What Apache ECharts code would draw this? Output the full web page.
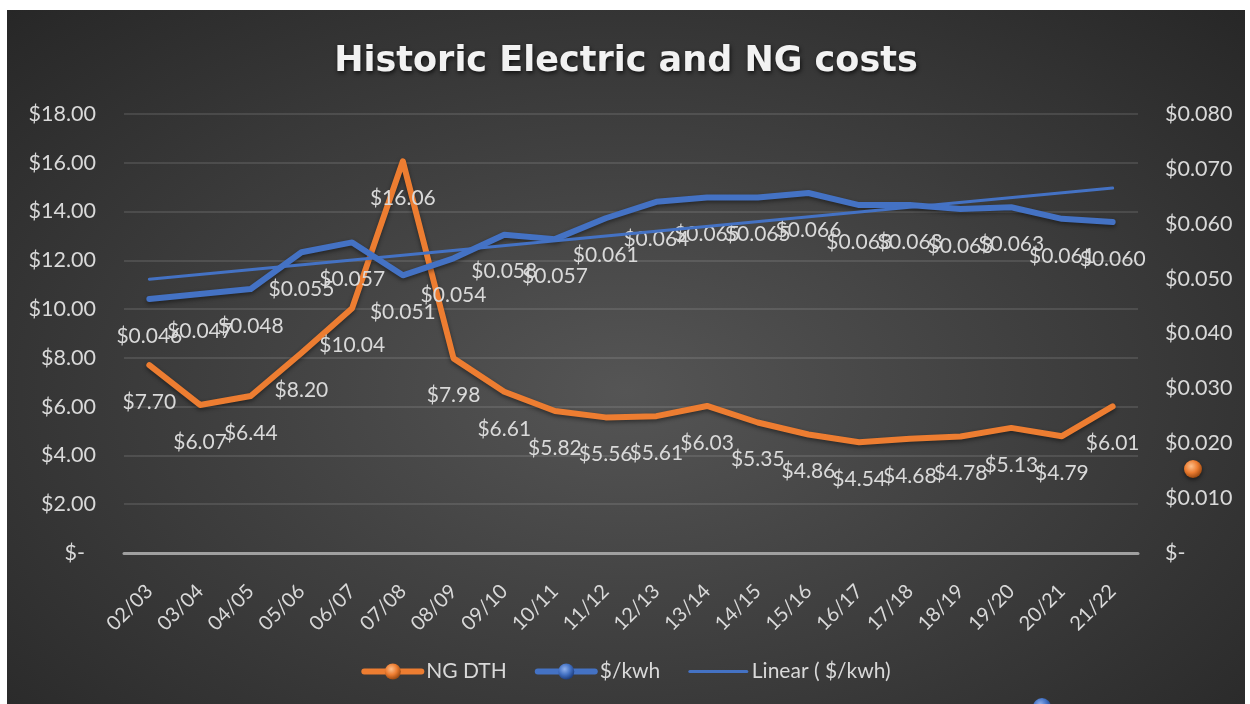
<!DOCTYPE html>
<html>
<head>
<meta charset="utf-8">
<title>Historic Electric and NG costs</title>
<script src="https://cdn.jsdelivr.net/npm/echarts@6/dist/echarts.min.js"></script>
<style>
  html, body { margin: 0; padding: 0; background: #ffffff; }
  #chart {
    position: absolute;
    left: 7px;
    top: 10px;
    width: 1238px;
    height: 694px;
    background: radial-gradient(ellipse at 50% 55%, #555555 0%, #404040 45%, #272727 100%);
  }
</style>
</head>
<body>
<div id="chart"></div>
<script>
// years on the x axis
const years = ['02/03', '03/04', '04/05', '05/06', '06/07', '07/08', '08/09', '09/10', '10/11', '11/12',
  '12/13', '13/14', '14/15', '15/16', '16/17', '17/18', '18/19', '19/20', '20/21', '21/22']

// natural gas, $ per DTH (left axis)
const ngDth = [7.70, 6.07, 6.44, 8.20, 10.04, 16.06, 7.98, 6.61, 5.82, 5.56,
  5.61, 6.03, 5.35, 4.86, 4.54, 4.68, 4.78, 5.13, 4.79, 6.01]

// electric, $ per kwh (right axis)
const kwh = [0.0463, 0.0472, 0.0481, 0.0548, 0.0566, 0.0506, 0.0537, 0.0580, 0.0572, 0.0610,
  0.0640, 0.0648, 0.0648, 0.0656, 0.0634, 0.0634, 0.0627, 0.0630, 0.0609, 0.0603]

// linear trend of $/kwh, read at the first and last year
const kwhTrend = [0.0499, null, null, null, null, null, null, null, null, null,
  null, null, null, null, null, null, null, null, null, 0.0665]

// axis ticks
const leftTicks = { min: 0, max: 18, step: 2 }
const rightTicks = { min: 0, max: 0.08, step: 0.01 }

const ORANGE = '#ED7D31'
const BLUE = '#4472C4'
const TEXT = '#d9d9d9'
const FONT = 'Lato, "Open Sans", sans-serif'
const CLEAR = 'rgba(0,0,0,0)'

// glossy ball used in the legend
const ball = (light, mid, dark) => new echarts.graphic.RadialGradient(0.4, 0.35, 0.65, [
  { offset: 0, color: light },
  { offset: 0.55, color: mid },
  { offset: 1, color: dark }
])

const chart = echarts.init(document.getElementById('chart'))

const option = {
  backgroundColor: 'transparent',
  animation: false,
  title: {
    text: 'Historic Electric and NG costs',
    left: 'center',
    top: 29,
    textStyle: {
      color: '#f2f2f2',
      fontFamily: '"DejaVu Sans", sans-serif',
      fontWeight: 'bold',
      fontSize: 35,
      textShadowColor: 'rgba(0,0,0,0.7)',
      textShadowBlur: 4,
      textShadowOffsetX: 1,
      textShadowOffsetY: 2
    }
  },
  legend: {
    top: 646,
    left: 'center',
    itemWidth: 57,
    itemHeight: 20,
    itemGap: 28,
    textStyle: { color: TEXT, fontSize: 21, fontFamily: FONT },
    data: [
      {
        name: 'NG DTH',
        itemStyle: { color: ball('#fbbf8c', ORANGE, '#9c4a12'), opacity: 1 },
        lineStyle: { color: ORANGE, width: 6 }
      },
      {
        name: '$/kwh',
        itemStyle: { color: ball('#8fb0ec', BLUE, '#1f3f80'), opacity: 1 },
        lineStyle: { color: BLUE, width: 6 }
      },
      {
        name: 'Linear ( $/kwh)',
        itemStyle: { color: CLEAR, borderColor: CLEAR },
        lineStyle: { color: BLUE, width: 3 }
      }
    ]
  },
  grid: {
    left: 117,
    right: 107,
    top: 104,
    bottom: 151
  },
  xAxis: {
    type: 'category',
    data: years,
    boundaryGap: true,
    axisTick: { show: false },
    axisLine: { lineStyle: { color: '#a0a0a0', width: 3 } },
    axisLabel: {
      color: TEXT,
      fontSize: 20,
      fontFamily: FONT,
      rotate: 45,
      margin: 35,
      interval: 0
    }
  },
  yAxis: [
    {
      type: 'value',
      min: leftTicks.min,
      max: leftTicks.max,
      interval: leftTicks.step,
      axisLine: { show: false },
      axisTick: { show: false },
      splitLine: { lineStyle: { color: 'rgba(217,217,217,0.18)', width: 1.5 } },
      axisLabel: {
        color: TEXT,
        fontSize: 21.5,
        fontFamily: FONT,
        margin: 28,
        formatter: v => v === 0 ? '{z|$-}' : '$' + v.toFixed(2),
        rich: { z: { color: TEXT, fontSize: 21.5, fontFamily: FONT, padding: [0, 11, 0, 0] } }
      }
    },
    {
      type: 'value',
      min: rightTicks.min,
      max: rightTicks.max,
      interval: rightTicks.step,
      axisLine: { show: false },
      axisTick: { show: false },
      splitLine: { show: false },
      axisLabel: {
        color: TEXT,
        fontSize: 21.5,
        fontFamily: FONT,
        margin: 27,
        formatter: v => v === 0 ? '$-' : '$' + v.toFixed(3)
      }
    }
  ],
  series: [
    {
      name: 'NG DTH',
      type: 'line',
      yAxisIndex: 0,
      data: ngDth,
      symbol: 'circle',
      symbolSize: 2,
      itemStyle: { color: CLEAR, borderColor: CLEAR },
      lineStyle: {
        color: ORANGE,
        width: 6,
        cap: 'round',
        join: 'round',
        shadowColor: 'rgba(0,0,0,0.45)',
        shadowBlur: 4,
        shadowOffsetY: 2
      },
      label: {
        show: true,
        position: 'bottom',
        distance: 25,
        color: TEXT,
        fontSize: 21,
        fontFamily: FONT,
        formatter: p => '$' + p.value.toFixed(2)
      },
      z: 3
    },
    {
      name: '$/kwh',
      type: 'line',
      yAxisIndex: 1,
      data: kwh,
      symbol: 'circle',
      symbolSize: 2,
      itemStyle: { color: CLEAR, borderColor: CLEAR },
      lineStyle: {
        color: BLUE,
        width: 6,
        cap: 'round',
        join: 'round',
        shadowColor: 'rgba(0,0,0,0.45)',
        shadowBlur: 4,
        shadowOffsetY: 2
      },
      label: {
        show: true,
        position: 'bottom',
        distance: 25,
        color: TEXT,
        fontSize: 21,
        fontFamily: FONT,
        formatter: p => '$' + p.value.toFixed(3)
      },
      z: 4
    },
    {
      name: 'Linear ( $/kwh)',
      type: 'line',
      yAxisIndex: 1,
      data: kwhTrend,
      connectNulls: true,
      symbol: 'none',
      itemStyle: { color: BLUE },
      lineStyle: { color: BLUE, width: 3, cap: 'round' },
      z: 5
    }
  ],
  // two stray glossy markers left over in the original picture
  graphic: [
    {
      type: 'circle',
      left: 1177,
      top: 450,
      shape: { r: 9 },
      style: { fill: ball('#fbbf8c', ORANGE, '#9c4a12'), shadowColor: 'rgba(0,0,0,0.5)', shadowBlur: 4, shadowOffsetY: 2 }
    },
    {
      type: 'circle',
      left: 1026,
      top: 688,
      shape: { r: 9 },
      style: { fill: ball('#8fb0ec', BLUE, '#1f3f80') }
    }
  ]
}

chart.setOption(option)

window.addEventListener('resize', () => {
  chart.resize()
})
</script>
</body>
</html>
